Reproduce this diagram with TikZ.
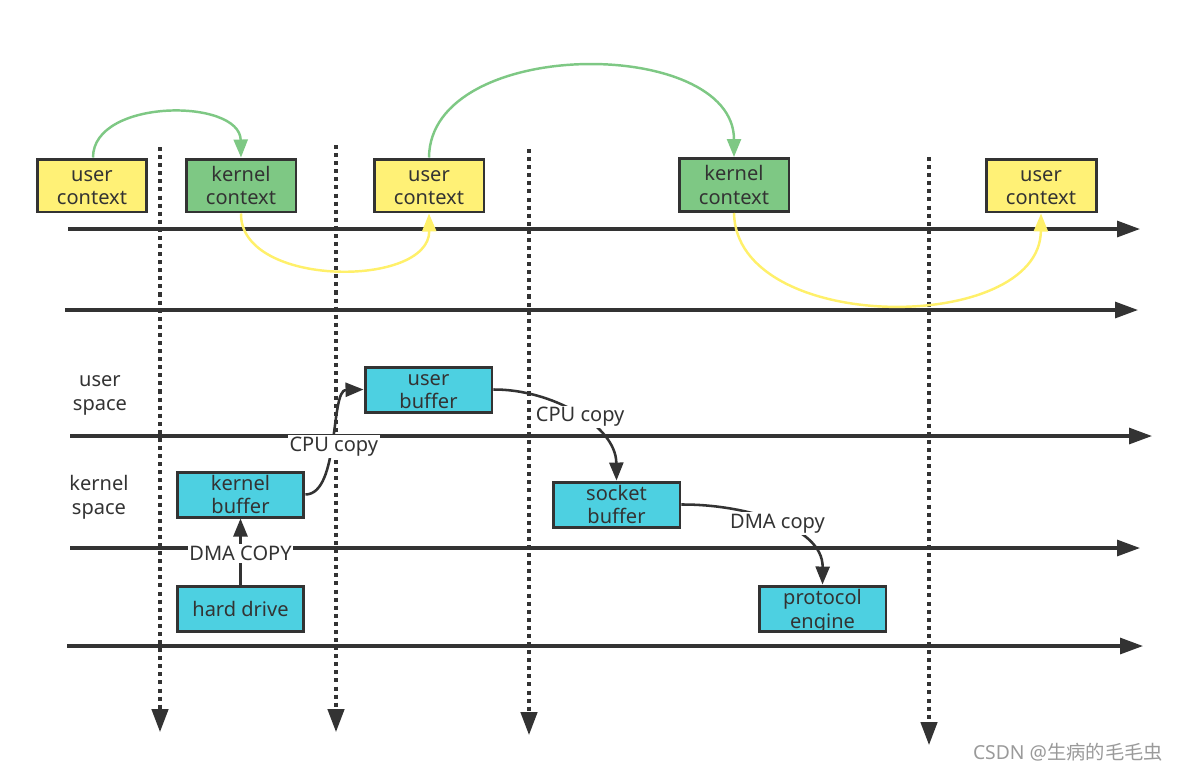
\documentclass[tikz,border=0pt]{standalone}
\usepackage{fontspec}
\setmainfont{Noto Sans}
\newfontfamily\cjkfont{Noto Sans CJK SC}
\usetikzlibrary{arrows.meta}
\definecolor{ln}{HTML}{333333}
\definecolor{yel}{HTML}{FFF176}
\definecolor{yelline}{HTML}{FFF06A}
\definecolor{grn}{HTML}{7EC884}
\definecolor{cya}{HTML}{4DD0E1}
\definecolor{wm}{HTML}{9A9A9A}
\newcommand{\asc}{\vphantom{k}}
\tikzset{
  txtfont/.style={font=\fontsize{11.4}{13.6}\selectfont, text=ln},
  box/.style={draw=ln, line width=1.7pt, minimum width=2.2cm, minimum height=1.06cm,
    align=center, inner sep=0pt, txtfont},
  ubox/.style={box, fill=yel},
  kbox/.style={box, fill=grn},
  bbox/.style={box, fill=cya, minimum width=2.54cm, minimum height=0.9cm},
  axis/.style={draw=ln, line width=1.75pt, -{Triangle[length=0.46cm,width=0.32cm]}},
  vline/.style={draw=ln, line width=1.75pt, dash pattern=on 2.3pt off 2.3pt,
    -{Triangle[length=0.46cm,width=0.33cm]}},
  garrow/.style={draw=grn, line width=1.4pt, -{Triangle[length=0.36cm,width=0.28cm]}},
  yarrow/.style={draw=yelline, line width=1.4pt, -{Triangle[length=0.36cm,width=0.28cm]}},
  carrow/.style={draw=ln, line width=1.45pt, -{Triangle[length=0.36cm,width=0.28cm]}},
  lbl/.style={fill=white, inner sep=1pt, txtfont},
  side/.style={align=center, txtfont},
}
\begin{document}
\begin{tikzpicture}[x=0.02cm,y=-0.02cm]
\useasboundingbox (0,0) rectangle (1179,772);
% horizontal axes
\coordinate (h1a) at (68,229);  \coordinate (h1b) at (1140,229);
\coordinate (h2a) at (65,310);  \coordinate (h2b) at (1138,310);
\coordinate (h3a) at (70,436);  \coordinate (h3b) at (1152,436);
\coordinate (h4a) at (70,548);  \coordinate (h4b) at (1140,548);
\coordinate (h5a) at (67,646);  \coordinate (h5b) at (1143,646);
\draw[axis] (h1a) -- (h1b);
\draw[axis] (h2a) -- (h2b);
\draw[axis] (h3a) -- (h3b);
\draw[axis] (h4a) -- (h4b);
\draw[axis] (h5a) -- (h5b);
% vertical dotted arrows
\coordinate (v1a) at (160,147); \coordinate (v1b) at (160,732);
\coordinate (v2a) at (336,145); \coordinate (v2b) at (336,732);
\coordinate (v3a) at (529,149); \coordinate (v3b) at (529,735);
\coordinate (v4a) at (929,157); \coordinate (v4b) at (929,745);
\draw[vline] (v1a) -- (v1b);
\draw[vline] (v2a) -- (v2b);
\draw[vline] (v3a) -- (v3b);
\draw[vline] (v4a) -- (v4b);
% context boxes
\node[ubox] (u1) at (92,185.5) {\asc user\\context};
\node[kbox] (k1) at (241,185.5) {kernel\\context};
\node[ubox] (u2) at (429,185.5) {\asc user\\context};
\node[kbox] (k2) at (734,185) {kernel\\context};
\node[ubox] (u3) at (1041,185.5) {\asc user\\context};
% side labels
\node[side] (us) at (100,395.5) {user\\space};
\node[side] (ks) at (99,497) {kernel\\space};
% buffer boxes
\node[bbox] (ub) at (428.5,389.5) {\asc user\\buffer};
\node[bbox] (kb) at (240.5,494.5) {kernel\\buffer};
\node[bbox] (hd) at (240.5,608.5) {hard drive};
\node[bbox] (sb) at (616.5,504.5) {\asc socket\\buffer};
\node[bbox] (pe) at (822.5,608.5) {protocol\\\smash{engine}};
% green arrows
\draw[garrow] ([xshift=0.02cm]u1.north) .. controls (93,98) and (240,98) .. (k1.north);
\draw[garrow] (u2.north) .. controls (430,36) and (734,36) .. (k2.north);
% yellow arrows
\draw[yarrow] (k1.south) .. controls (240,288) and (430,288) .. (u2.south);
\draw[yarrow] (k2.south) .. controls (736,335) and (1040,335) .. (u3.south);
% copy arrows
\draw[carrow] (hd.north) -- node[lbl, pos=0.47] {DMA COPY} (kb.south);
\draw[carrow] (kb.east) .. controls (340,494) and (330,390) .. node[lbl, pos=0.47] {CPU copy} (ub.west);
\draw[carrow] (ub.east) .. controls (550,389) and (616,425) .. node[lbl, pos=0.53] {CPU copy} (sb.north);
\draw[carrow] (sb.east) .. controls (740,504) and (823,525) .. node[lbl, pos=0.52] {DMA copy} (pe.north);
% watermark
\node[text=wm, font=\fontsize{11}{13}\selectfont] (wmk) at (1068,752) {CSDN @{\cjkfont 生病的毛毛虫}};
\end{tikzpicture}
\end{document}
